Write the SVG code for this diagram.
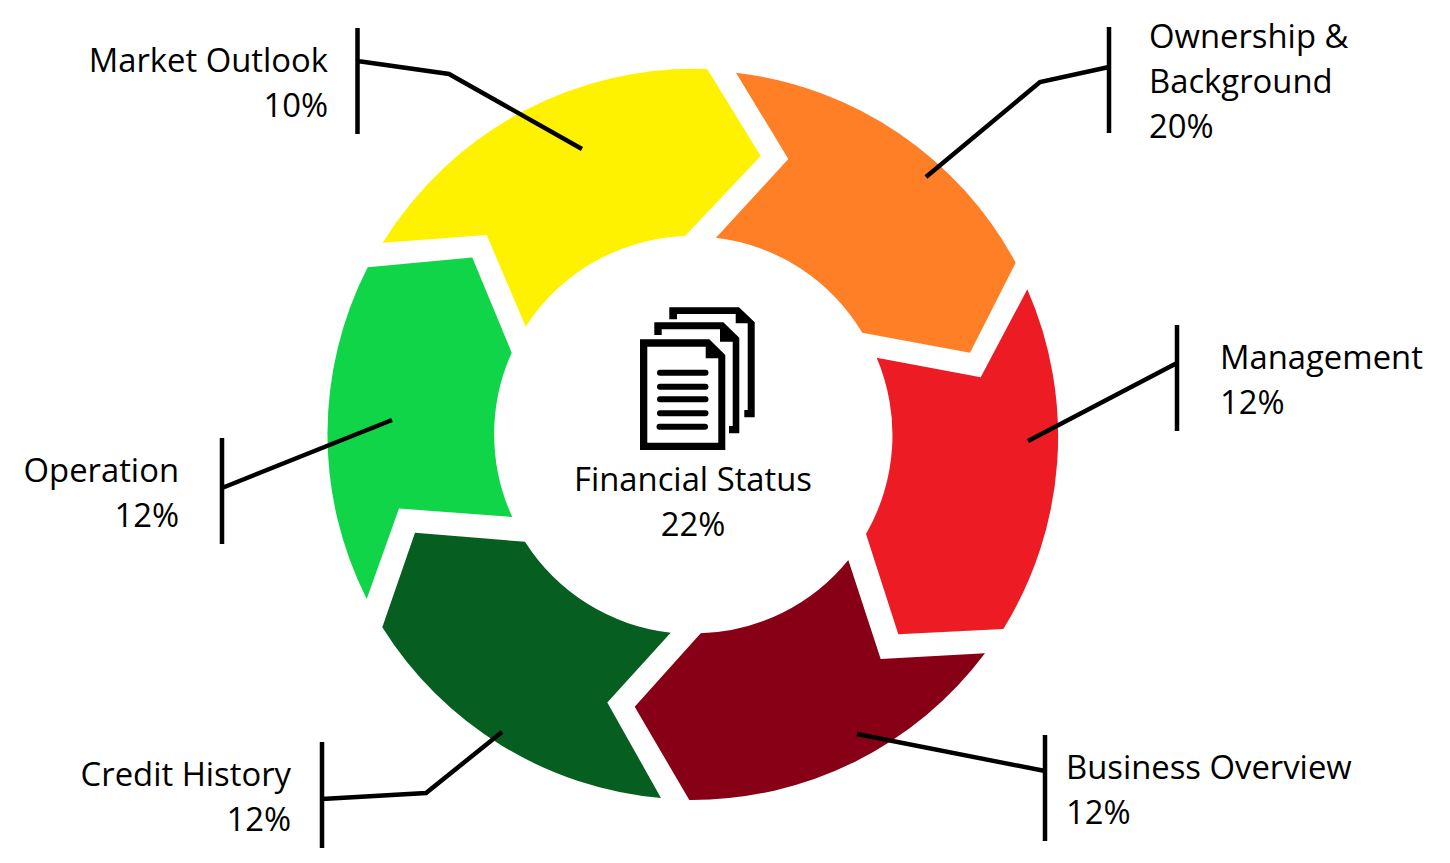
<svg xmlns="http://www.w3.org/2000/svg" width="1450" height="863" viewBox="0 0 1450 863">
<style>
text{font-family:"Open Sans","Noto Sans","Liberation Sans",sans-serif;font-size:32.8px;fill:#000}
.e{text-anchor:end}.m{text-anchor:middle}
.c{fill:none;stroke:#000;stroke-width:4.5}
.l{fill:none;stroke:#000;stroke-width:6;stroke-linecap:round}
</style>
<rect width="1450" height="863" fill="#fff"/>
<g id="seg-market"><path fill="#FFF200" d="M382.7 242.7A366 366 0 0 1 707.3 69L760.7 156L685 236A198 198 0 0 0 525.7 326.7L486.7 235Z"/><text class="e" x="328" y="71.5">Market Outlook</text><text class="e" x="328" y="116.5">10%</text></g>
<g id="seg-ownership"><path fill="#FF7F27" d="M736 72.7A366 366 0 0 1 1015.7 262.7L970 352.7L862.3 332.7A198 198 0 0 0 716 237.7L788.3 159Z"/><text x="1149" y="47.5">Ownership &amp;</text><text x="1149" y="92.5">Background</text><text x="1149" y="137.5">20%</text></g>
<g id="seg-management"><path fill="#ED1C24" d="M1027.3 289.3A366 366 0 0 1 1003.3 629L898.3 634.3L866 534A198 198 0 0 0 876.7 357.7L980.7 377.3Z"/><text x="1220" y="368.5">Management</text><text x="1220" y="413.5">12%</text></g>
<g id="seg-business"><path fill="#880015" d="M985 653.3A366 366 0 0 1 689.3 800L634.7 706.7L700.7 633.3A198 198 0 0 0 848.3 560L880.7 659Z"/><text x="1066" y="778.5">Business Overview</text><text x="1066" y="823.5">12%</text></g>
<g id="seg-credit"><path fill="#065F20" d="M661 798A366 366 0 0 1 382.3 627.3L415 532.7L525 541.8A198 198 0 0 0 670.7 632.7L607.3 702.5Z"/><text class="e" x="291" y="785.5">Credit History</text><text class="e" x="291" y="830.5">12%</text></g>
<g id="seg-operation"><path fill="#11D548" d="M366.7 599A366 366 0 0 1 367.7 267.3L472.3 257.5L511.7 352.7A198 198 0 0 0 512.3 517L399 508.4Z"/><text class="e" x="179" y="481.5">Operation</text><text class="e" x="179" y="526.5">12%</text></g>
<g id="center">
<path d="M669.3 319.3V307.3H739L754.7 322.3V417.3H744.3V410H747.7V323.3H735.7V314H677V319.3Z"/>
<path d="M654.3 335V322.3H723.3L739.3 337.7V433.3H729V426H732.7V341.7H720V329.3H661.7V335Z"/>
<path fill-rule="evenodd" d="M640 339.3H709.3L725.3 355V450H640ZM647.3 346.7V442.7H718.3V358.3H705.7V346.7Z"/>
<path class="l" d="M660 372.7H705.5M660 386.7H705.5M660 399.3H705.5M660 413.3H705.5M659.5 426.7H705"/>
<text class="m" x="693" y="490.5">Financial Status</text><text class="m" x="693" y="535.5">22%</text>
</g>
<g id="connectors">
<path class="c" d="M357.5 28V134M357.5 61L449 74L582 149"/>
<path class="c" d="M1109 27V133M1109 67L1040 82L926 177"/>
<path class="c" d="M1177 325V431M1177 363L1028 441"/>
<path class="c" d="M1045 735V841M1045 771L857 734"/>
<path class="c" d="M322 742V848M322 799L426 793L502 732"/>
<path class="c" d="M222 438V544M222 488L392 420"/>
</g>
</svg>
